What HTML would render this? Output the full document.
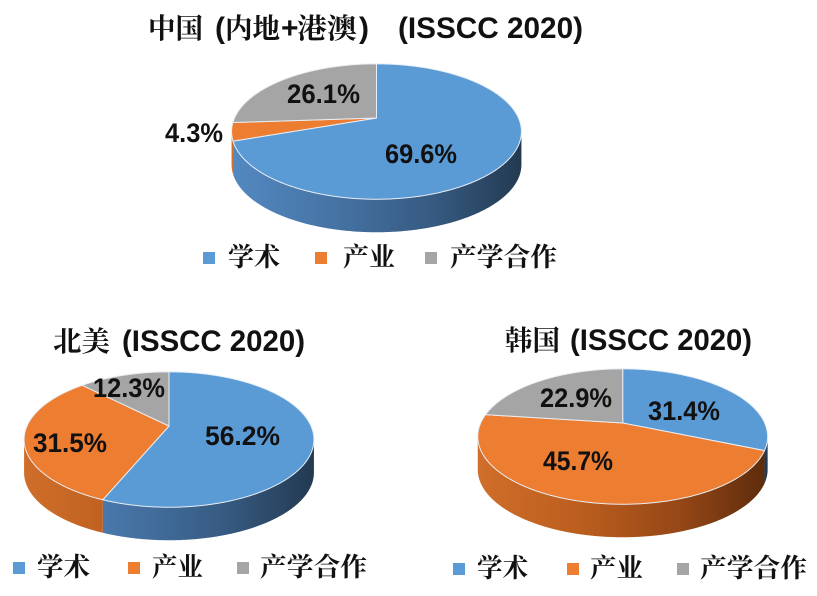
<!DOCTYPE html>
<html>
<head>
<meta charset="utf-8">
<style>
html,body{margin:0;padding:0;background:#fff;}
svg{display:block;}
.lab{font-family:"Liberation Sans",Arial,sans-serif;font-weight:bold;font-size:27px;fill:#111;}
.lat{font-family:"Liberation Sans",Arial,sans-serif;font-weight:bold;font-size:30px;fill:#111;}
.cjk{font-family:"Liberation Serif","Noto Serif CJK SC","Noto Sans CJK SC",serif;font-weight:bold;font-size:28px;fill:#111;}
.leg{font-family:"Liberation Serif","Noto Serif CJK SC","Noto Sans CJK SC",serif;font-weight:bold;font-size:26px;fill:#111;}
</style>
</head>
<body>
<svg id="root" width="817" height="596" viewBox="0 0 817 596" xmlns="http://www.w3.org/2000/svg">
<defs id="defs"></defs>
<rect x="0" y="0" width="817" height="596" fill="#ffffff"/>
<g id="pies"></g>

<!-- Titles -->
<text class="cjk" x="148" y="38" textLength="55" lengthAdjust="spacingAndGlyphs">中国</text>
<text class="lat" x="215" y="38">(</text>
<text class="cjk" x="225" y="38" textLength="55" lengthAdjust="spacingAndGlyphs">内地</text>
<text class="lat" x="281" y="38">+</text>
<text class="cjk" x="297" y="38" textLength="60" lengthAdjust="spacingAndGlyphs">港澳</text>
<text class="lat" x="359" y="38">)</text>
<text class="lat" x="398" y="38" textLength="185" lengthAdjust="spacingAndGlyphs">(ISSCC 2020)</text>

<text class="cjk" x="53" y="351" textLength="57" lengthAdjust="spacingAndGlyphs">北美</text>
<text class="lat" x="122" y="351" textLength="183" lengthAdjust="spacingAndGlyphs">(ISSCC 2020)</text>

<text class="cjk" x="505" y="350" textLength="55" lengthAdjust="spacingAndGlyphs">韩国</text>
<text class="lat" x="570" y="350" textLength="182" lengthAdjust="spacingAndGlyphs">(ISSCC 2020)</text>

<!-- Data labels -->
<text class="lab" x="287" y="103" textLength="73" lengthAdjust="spacingAndGlyphs">26.1%</text>
<text class="lab" x="165" y="142" textLength="58" lengthAdjust="spacingAndGlyphs">4.3%</text>
<text class="lab" x="385" y="163" textLength="72" lengthAdjust="spacingAndGlyphs">69.6%</text>

<text class="lab" x="93" y="397" textLength="72" lengthAdjust="spacingAndGlyphs">12.3%</text>
<text class="lab" x="33" y="452" textLength="74" lengthAdjust="spacingAndGlyphs">31.5%</text>
<text class="lab" x="205" y="445" textLength="75" lengthAdjust="spacingAndGlyphs">56.2%</text>

<text class="lab" x="540" y="407" textLength="72" lengthAdjust="spacingAndGlyphs">22.9%</text>
<text class="lab" x="648" y="420" textLength="72" lengthAdjust="spacingAndGlyphs">31.4%</text>
<text class="lab" x="543" y="470" textLength="70" lengthAdjust="spacingAndGlyphs">45.7%</text>

<!-- Legend 1 -->
<rect x="203" y="252" width="12" height="12" fill="#5b9bd5"/>
<text class="leg" x="228" y="266" textLength="52" lengthAdjust="spacingAndGlyphs">学术</text>
<rect x="315" y="252" width="12" height="12" fill="#ed7d31"/>
<text class="leg" x="343" y="266" textLength="52" lengthAdjust="spacingAndGlyphs">产业</text>
<rect x="425" y="252" width="12" height="12" fill="#a5a5a5"/>
<text class="leg" x="450" y="266" textLength="107" lengthAdjust="spacingAndGlyphs">产学合作</text>

<!-- Legend 2 -->
<rect x="13" y="562" width="12" height="12" fill="#5b9bd5"/>
<text class="leg" x="37" y="576" textLength="53" lengthAdjust="spacingAndGlyphs">学术</text>
<rect x="128" y="562" width="12" height="12" fill="#ed7d31"/>
<text class="leg" x="152" y="576" textLength="51" lengthAdjust="spacingAndGlyphs">产业</text>
<rect x="237" y="562" width="12" height="12" fill="#a5a5a5"/>
<text class="leg" x="260" y="576" textLength="107" lengthAdjust="spacingAndGlyphs">产学合作</text>

<!-- Legend 3 -->
<rect x="453" y="563" width="12" height="12" fill="#5b9bd5"/>
<text class="leg" x="477" y="577" textLength="51" lengthAdjust="spacingAndGlyphs">学术</text>
<rect x="567" y="563" width="12" height="12" fill="#ed7d31"/>
<text class="leg" x="590" y="577" textLength="53" lengthAdjust="spacingAndGlyphs">产业</text>
<rect x="677" y="563" width="12" height="12" fill="#a5a5a5"/>
<text class="leg" x="700" y="577" textLength="107" lengthAdjust="spacingAndGlyphs">产学合作</text>
</svg>

<script>
(function(){
  var NS='http://www.w3.org/2000/svg';
  var P=0.2, A=142, B=65, D=33;
  var g=document.getElementById('pies');
  var defs=document.getElementById('defs');
  var topc={b:'#5b9bd5',o:'#ed7d31',g:'#a5a5a5'};
  var side={
    b:[['0','#5389c1'],['0.35','#4673a5'],['0.7','#365a80'],['1','#233a52']],
    o:[['0','#d06e2a'],['0.35','#bb5e1e'],['0.7','#954716'],['1','#5c2b0b']],
    g:[['0','#909090'],['1','#555555']]
  };
  function pt(cx,cp,t,dy){var u=Math.sin(t),v=Math.cos(t),w=1+P*v;return [cx+A*u/w, cp-B*v/w+(dy||0)];}
  function arcPts(cx,cp,t1,t2,dy){
    var n=Math.max(2,Math.ceil(Math.abs(t2-t1)/0.01)),a=[];
    for(var i=0;i<=n;i++){a.push(pt(cx,cp,t1+(t2-t1)*i/n,dy));}
    return a;
  }
  function poly(a){return 'M'+a.map(function(p){return p[0].toFixed(2)+','+p[1].toFixed(2);}).join('L')+'Z';}
  function el(tag,attrs,parent){var e=document.createElementNS(NS,tag);for(var k in attrs)e.setAttribute(k,attrs[k]);parent.appendChild(e);return e;}
  var s0=Math.acos(-P), s1=2*Math.PI-s0;
  function pie(id,cx,cp,data){
    for(var k in side){
      var lg=el('linearGradient',{id:id+k,gradientUnits:'userSpaceOnUse',x1:cx-145,y1:0,x2:cx+145,y2:0},defs);
      side[k].forEach(function(s){el('stop',{offset:s[0],'stop-color':s[1]},lg);});
    }
    var t=0, sl=[];
    data.forEach(function(d){var t1=t,t2=t+d[1]/100*2*Math.PI;t=t2;sl.push([d[0],t1,t2]);});
    sl.forEach(function(s){
      var a=Math.max(s[1],s0), b=Math.min(s[2],s1);
      if(b>a){
        var pts=arcPts(cx,cp,a,b,0).concat(arcPts(cx,cp,b,a,D));
        el('path',{d:poly(pts),fill:'url(#'+id+s[0]+')'},g);
      }
    });
    sl.forEach(function(s){
      var pts=[[cx,cp]].concat(arcPts(cx,cp,s[1],s[2],0));
      el('path',{d:poly(pts),fill:topc[s[0]],stroke:'#e8eef5','stroke-width':1,'stroke-linejoin':'round'},g);
    });
  }
  pie('c1',376.5,118,[['b',69.6],['o',4.3],['g',26.1]]);
  pie('c2',169,426,[['b',56.2],['o',31.5],['g',12.3]]);
  pie('c3',622.7,423,[['b',31.4],['o',45.7],['g',22.9]]);
})();
</script>
</body>
</html>
